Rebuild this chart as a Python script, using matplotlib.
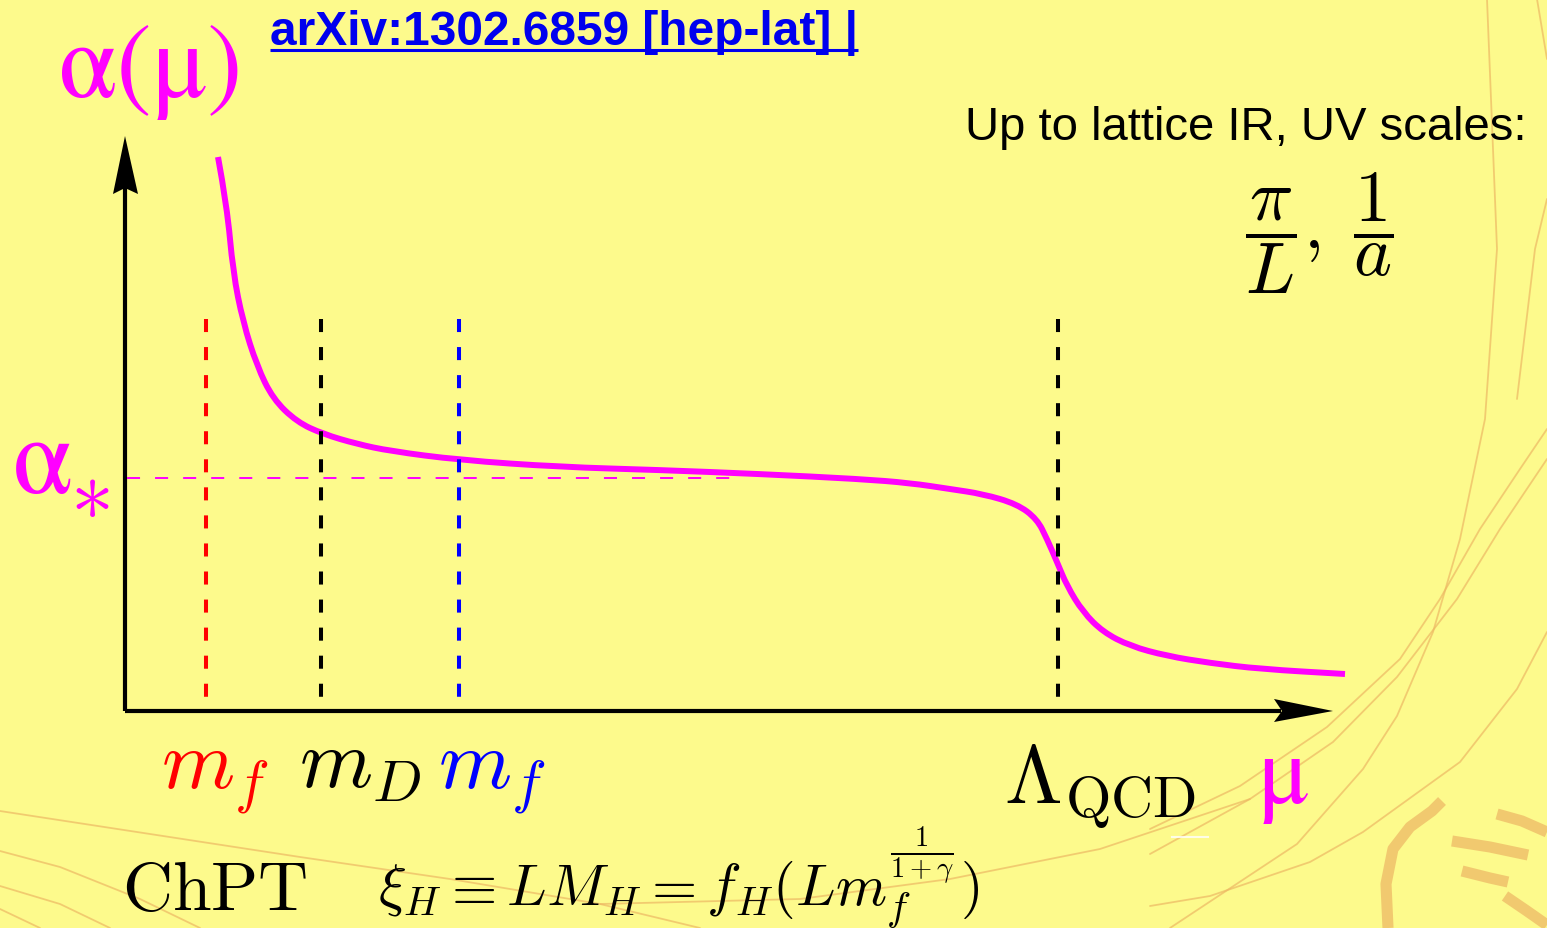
import matplotlib
matplotlib.use("Agg")
import matplotlib.pyplot as plt
from matplotlib.path import Path
from matplotlib.patches import PathPatch, Polygon

plt.rcParams["lines.scale_dashes"] = False
plt.rcParams["mathtext.fontset"] = "cm"

W, H = 1547, 929
BG = "#FDFA8C"
MAGENTA = "#FF00FF"
SERIF = ["STIXGeneral", "Liberation Serif"]

# ---- running coupling alpha(mu), schematic units ----
mu = [0.93, 1.02, 1.08, 1.18, 1.32, 1.48, 1.72, 1.98, 2.32, 2.65, 3.34,
      4.35, 5.35, 6.35, 7.35, 7.85, 8.25, 8.58, 8.92, 9.12, 9.22, 9.32,
      9.42, 9.58, 9.78, 10.05, 10.42, 10.85, 11.35, 12.20]
alpha = [5.54, 5.05, 4.39, 3.89, 3.45, 3.12, 2.89, 2.77, 2.67, 2.60, 2.51,
         2.44, 2.41, 2.37, 2.32, 2.28, 2.22, 2.17, 2.07, 1.92, 1.72, 1.49,
         1.25, 0.99, 0.79, 0.65, 0.55, 0.48, 0.42, 0.37]

alpha_star = 2.33
alpha_star_end = 6.17

# characteristic scales on the mu axis
scale_pos = [0.81, 1.96, 3.34, 9.33]
scale_colors = ["#FF0000", "#000000", "#0000FF", "#000000"]
scale_top = 3.92
scale_labels = [r"$m_f$", r"$m_D$", r"$m_f$", r"$\Lambda_{\mathrm{QCD}}$"]
label_x = [0.36, 1.74, 3.13, 8.79]
label_y = [-0.76, -0.76, -0.76, -0.91]

x_tip, y_tip = 12.08, 5.75

# decorative background strokes (slide template), pixel coordinates
deco_thin = [
    [(1150, 830), (1240, 787), (1327, 728), (1400, 660), (1440, 600), (1480, 530), (1520, 470), (1547, 430)],
    [(1150, 855), (1250, 800), (1333, 743), (1397, 678), (1457, 600), (1500, 530), (1547, 460)],
    [(1170, 929), (1297, 845), (1363, 770), (1397, 717), (1433, 633), (1460, 540), (1485, 420),
     (1497, 250), (1487, 0)],
    [(1150, 907), (1210, 897), (1310, 863), (1363, 833), (1460, 763), (1517, 690), (1547, 633)],
    [(1517, 400), (1535, 250), (1547, 200)],
    [(1537, 0), (1547, 60)],
    [(0, 812), (150, 835), (300, 858), (450, 880), (600, 905), (700, 929)],
    [(0, 852), (60, 868), (140, 900), (200, 929)],
    [(0, 887), (60, 905), (110, 929)],
    [(0, 910), (40, 929)],
    [(600, 905), (800, 900), (950, 880), (1100, 850), (1250, 800)],
]
deco_thick = [
    [(1388, 929), (1386, 885), (1393, 850), (1410, 828), (1432, 812), (1442, 802)],
    [(1452, 842), (1490, 848), (1528, 856)],
    [(1497, 815), (1522, 822), (1547, 833)],
    [(1462, 872), (1490, 879), (1508, 883)],
    [(1505, 897), (1527, 912), (1547, 926)],
]

fig = plt.figure(figsize=(W / 100, H / 100), dpi=100)
fig.patch.set_facecolor(BG)

# background ornament layer
bg = fig.add_axes([0, 0, 1, 1])
bg.set_xlim(0, W)
bg.set_ylim(H, 0)
bg.axis("off")
for pts in deco_thin:
    xs, ys = zip(*pts)
    bg.plot(xs, ys, color="#EDB864", lw=1.3, alpha=0.7, solid_capstyle="round")
for pts in deco_thick:
    xs, ys = zip(*pts)
    bg.plot(xs, ys, color="#F0C46C", lw=8, alpha=0.9, solid_capstyle="butt")
bg.plot([1172, 1208], [838, 838], color="white", lw=1.5, alpha=0.8)

# main diagram: origin at the axis corner, 100 px per unit
ax = fig.add_axes([0, 0, 1, 1])
ax.set_xlim(-125 / 100, (W - 125) / 100)
ax.set_ylim(-(H - 712) / 100, 712 / 100)
ax.axis("off")

# axes with notched arrowheads
ax.plot([0, 0], [0, y_tip - 0.52], color="black", lw=3.0, solid_capstyle="butt")
ax.plot([0, x_tip - 0.52], [0, 0], color="black", lw=3.0, solid_capstyle="butt")
ax.add_patch(Polygon([(0, y_tip), (0.13, y_tip - 0.58), (0, y_tip - 0.52),
                      (-0.12, y_tip - 0.58)], closed=True, color="black", lw=0))
ax.add_patch(Polygon([(x_tip, 0), (x_tip - 0.59, 0.12), (x_tip - 0.51, 0),
                      (x_tip - 0.59, -0.11)], closed=True, color="black", lw=0))

# scale markers
for xp, c in zip(scale_pos, scale_colors):
    ax.plot([xp, xp], [scale_top, 0], color=c, lw=2.9, dashes=(9.4, 10.8),
            dash_capstyle="butt")

# fixed point value
ax.plot([0.02, alpha_star_end], [alpha_star, alpha_star], color=MAGENTA, lw=1.4,
        dashes=(9.4, 10.8), dash_capstyle="butt")

# smooth coupling curve through the read points (quadratic midpoints)
verts = [(mu[0], alpha[0])]
codes = [Path.MOVETO]
for i in range(1, len(mu) - 1):
    mid = ((mu[i] + mu[i + 1]) / 2, (alpha[i] + alpha[i + 1]) / 2)
    verts += [(mu[i], alpha[i]), mid]
    codes += [Path.CURVE3, Path.CURVE3]
verts.append((mu[-1], alpha[-1]))
codes.append(Path.LINETO)
ax.add_patch(PathPatch(Path(verts, codes), fill=False, edgecolor=MAGENTA, lw=4.3,
                       capstyle="butt", joinstyle="round"))

# labels on the mu axis
for lab, lx, ly, c in zip(scale_labels, label_x, label_y, scale_colors):
    ax.text(lx, ly, lab, color=c, fontsize=60, ha="left", va="baseline")
ax.text(11.33, -0.91, "μ", color=MAGENTA, fontsize=70, family=SERIF,
        ha="left", va="baseline")

# axis titles
ax.text(-0.66, 6.15, "α(μ)", color=MAGENTA, fontsize=76, family=SERIF,
        ha="left", va="baseline")
ax.text(-1.12, 2.19, "α", color=MAGENTA, fontsize=78, family=SERIF,
        ha="left", va="baseline")
ax.text(-0.55, 2.17, r"$\ast$", color=MAGENTA, fontsize=62, ha="left", va="center")

# reference link
ax.text(1.45, 6.67, "arXiv:1302.6859 [hep-lat] |", color="#0000EE", fontsize=34.5,
        fontweight="bold", family=["Liberation Sans Narrow", "Liberation Sans"],
        ha="left", va="baseline")
ax.plot([1.45, 7.33], [6.61, 6.61], color="#0000EE", lw=2.2, solid_capstyle="butt")

# lattice scales
ax.text(14.02, 5.72, "Up to lattice IR, UV scales:", color="black", fontsize=34,
        family="Liberation Sans", ha="right", va="baseline")
ax.text(11.20, 4.79, r"$\dfrac{\pi}{L},\;\dfrac{1}{a}$", color="black", fontsize=52,
        ha="left", va="center")

# finite-volume scaling
ax.text(-0.03, -1.98, r"$\mathrm{ChPT}$", color="black", fontsize=50,
        ha="left", va="baseline")
ax.text(2.53, -1.93, r"$\xi_H \equiv LM_H = f_H(Lm_f^{\frac{1}{1+\gamma}})$",
        color="black", fontsize=42, ha="left", va="baseline")

fig.savefig("out.png", dpi=100, facecolor=BG)
